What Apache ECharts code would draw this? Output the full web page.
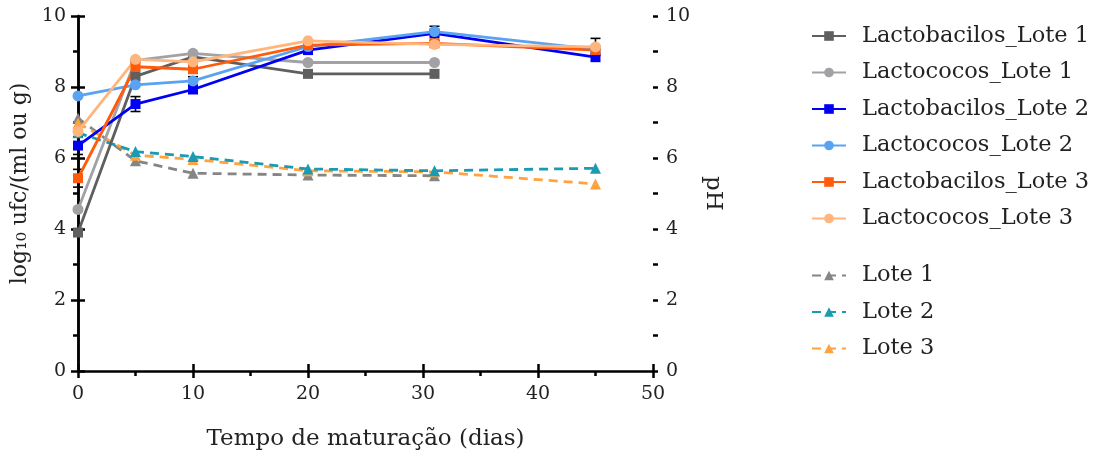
<!DOCTYPE html>
<html>
<head>
  <meta charset="utf-8">
  <title>Maturação</title>
  <script src="https://cdn.jsdelivr.net/npm/echarts@6/dist/echarts.min.js"></script>
  <style>
    html, body { margin: 0; padding: 0; background: #fff; }
    #chart { width: 1107px; height: 459px; }
  </style>
</head>
<body>
  <div id="chart"></div>
  <script type="text/javascript">
    // dias de maturação
    var dias = [0, 5, 10, 20, 31, 45];
    var diasLote1 = [0, 5, 10, 20, 31];

    // log10 ufc
    var lactobacilosLote1 = [3.9, 8.3, 8.85, 8.37, 8.37];
    var lactococosLote1 = [4.55, 8.75, 8.95, 8.69, 8.69];
    var lactobacilosLote2 = [6.35, 7.52, 7.93, 9.04, 9.51, 8.84];
    var lactococosLote2 = [7.75, 8.06, 8.17, 9.14, 9.56, 9.06];
    var lactobacilosLote3 = [5.43, 8.57, 8.5, 9.18, 9.23, 9.04];
    var lactococosLote3 = [6.75, 8.78, 8.71, 9.3, 9.2, 9.13];

    // desvios (0 = sem barra)
    var erroLactobacilosLote2 = [0.25, 0.21, 0, 0, 0.2, 0];
    var erroLactococosLote2 = [0, 0, 0.12, 0, 0, 0];
    var erroLactobacilosLote3 = [0.25, 0, 0, 0, 0, 0];
    var erroLactococosLote3 = [0, 0, 0, 0, 0, 0.24];

    // pH
    var phLote1 = [7.12, 5.92, 5.57, 5.52, 5.5];
    var phLote2 = [6.71, 6.18, 6.04, 5.69, 5.64, 5.71];
    var phLote3 = [6.98, 6.08, 5.96, 5.64, 5.61, 5.27];

    var fonte = 'DejaVu Serif';

    function pares(xs, ys) {
      var out = [];
      for (var i = 0; i < ys.length; i++) out.push([xs[i], ys[i]]);
      return out;
    }

    var barras = [];
    function addErros(vals, erros) {
      for (var i = 0; i < vals.length; i++) {
        if (erros[i] > 0) barras.push([dias[i], vals[i] - erros[i], vals[i] + erros[i]]);
      }
    }
    addErros(lactobacilosLote2, erroLactobacilosLote2);
    addErros(lactococosLote2, erroLactococosLote2);
    addErros(lactobacilosLote3, erroLactobacilosLote3);
    addErros(lactococosLote3, erroLactococosLote3);

    function linha(nome, cor, simbolo, tam, dados, yIdx, tracejado) {
      return {
        name: nome,
        type: 'line',
        yAxisIndex: yIdx,
        data: dados,
        symbol: simbolo,
        symbolSize: tam,
        showSymbol: true,
        z: tracejado ? 3 : 4,
        itemStyle: { color: cor },
        lineStyle: { color: cor, width: 2.8, type: tracejado ? [9, 6] : 'solid' },
        emphasis: { disabled: true }
      };
    }

    var eixoTexto = { fontFamily: fonte, fontSize: 19, color: '#222' };
    var legTexto = { fontFamily: fonte, fontSize: 22.5, color: '#222', lineHeight: 20, padding: [0, 0, 0, 11] };
    var traco = { color: '#000', width: 2.5 };

    // eixo só com marcas menores (sem linha nem rótulos)
    function eixoMenor(pos, max, step, comp) {
      return {
        type: 'value',
        position: pos,
        min: 0,
        max: max,
        interval: step,
        axisLine: { show: false },
        axisTick: { show: true, length: comp, lineStyle: traco },
        axisLabel: { show: false },
        splitLine: { show: false }
      };
    }

    var option = {
      animation: false,
      textStyle: { fontFamily: fonte },
      grid: { left: 78, right: 454, top: 16, bottom: 88, containLabel: false },
      legend: [{
        orient: 'vertical',
        left: 806,
        top: 19.5,
        itemWidth: 34,
        itemHeight: 12,
        itemGap: 13.5,
        textStyle: legTexto,
        data: ['Lactobacilos_Lote 1', 'Lactococos_Lote 1', 'Lactobacilos_Lote 2',
          'Lactococos_Lote 2', 'Lactobacilos_Lote 3', 'Lactococos_Lote 3']
      }, {
        orient: 'vertical',
        left: 806,
        top: 259,
        itemWidth: 34,
        itemHeight: 12,
        itemGap: 13.5,
        textStyle: legTexto,
        data: ['Lote 1', 'Lote 2', 'Lote 3']
      }],
      xAxis: [{
        type: 'value',
        min: 0,
        max: 50,
        interval: 10,
        name: 'Tempo de maturação (dias)',
        nameLocation: 'middle',
        nameGap: 57,
        nameTextStyle: { fontFamily: fonte, fontSize: 23, color: '#222' },
        axisLine: { lineStyle: traco },
        axisTick: { length: 7, lineStyle: traco },
        axisLabel: Object.assign({ margin: 14 }, eixoTexto),
        splitLine: { show: false }
      }, {
        type: 'value',
        position: 'bottom',
        min: 0,
        max: 50,
        interval: 10,
        axisLine: { show: false },
        axisTick: { inside: true, length: 7, lineStyle: traco },
        axisLabel: { show: false },
        splitLine: { show: false }
      },
      eixoMenor('bottom', 50, 5, 5)
      ],
      yAxis: [{
        type: 'value',
        min: 0,
        max: 10,
        interval: 2,
        name: 'log\u2081\u2080 ufc/(ml ou g)',
        nameLocation: 'middle',
        nameGap: 40,
        nameTextStyle: { fontFamily: fonte, fontSize: 22, color: '#222', padding: [0, 0, 0, 20] },
        axisLine: { show: true, lineStyle: traco },
        axisTick: { show: true, length: 7, lineStyle: traco },
        axisLabel: Object.assign({ margin: 12 }, eixoTexto),
        splitLine: { show: false }
      }, {
        type: 'value',
        position: 'right',
        min: 0,
        max: 10,
        interval: 2,
        name: 'pH',
        nameLocation: 'middle',
        nameGap: 48,
        nameRotate: -90,
        nameTextStyle: { fontFamily: fonte, fontSize: 23, color: '#222' },
        axisLine: { show: true, lineStyle: traco },
        axisTick: { show: true, length: 7, lineStyle: traco },
        axisLabel: Object.assign({ margin: 13 }, eixoTexto),
        splitLine: { show: false }
      },
      eixoMenor('left', 10, 1, 5),
      eixoMenor('right', 10, 1, 5)
      ],
      series: [
        linha('Lote 1', '#858585', 'triangle', 11, pares(dias, phLote1), 1, true),
        linha('Lote 3', '#ffa23f', 'triangle', 11, pares(dias, phLote3), 1, true),
        linha('Lote 2', '#1a9bb2', 'triangle', 11, pares(dias, phLote2), 1, true),
        linha('Lactobacilos_Lote 1', '#5f5f5f', 'rect', 10, pares(diasLote1, lactobacilosLote1), 0, false),
        linha('Lactococos_Lote 1', '#a2a2a6', 'circle', 11, pares(diasLote1, lactococosLote1), 0, false),
        linha('Lactobacilos_Lote 2', '#0000f5', 'rect', 10, pares(dias, lactobacilosLote2), 0, false),
        linha('Lactococos_Lote 2', '#5aa2f2', 'circle', 11, pares(dias, lactococosLote2), 0, false),
        linha('Lactobacilos_Lote 3', '#ff5b0a', 'rect', 10, pares(dias, lactobacilosLote3), 0, false),
        linha('Lactococos_Lote 3', '#ffb57c', 'circle', 11, pares(dias, lactococosLote3), 0, false),
        {
          type: 'custom',
          name: 'erros',
          yAxisIndex: 0,
          z: 2,
          silent: true,
          data: barras,
          renderItem: function (params, api) {
            var x = api.value(0);
            var lo = api.coord([x, api.value(1)]);
            var hi = api.coord([x, api.value(2)]);
            var w = 5;
            var st = { stroke: '#000', lineWidth: 1.6 };
            return {
              type: 'group',
              children: [
                { type: 'line', shape: { x1: lo[0], y1: lo[1], x2: hi[0], y2: hi[1] }, style: st },
                { type: 'line', shape: { x1: lo[0] - w, y1: lo[1], x2: lo[0] + w, y2: lo[1] }, style: st },
                { type: 'line', shape: { x1: hi[0] - w, y1: hi[1], x2: hi[0] + w, y2: hi[1] }, style: st }
              ]
            };
          }
        }
      ]
    };

    var myChart = echarts.init(document.getElementById('chart'));
    myChart.setOption(option);
  </script>
</body>
</html>
